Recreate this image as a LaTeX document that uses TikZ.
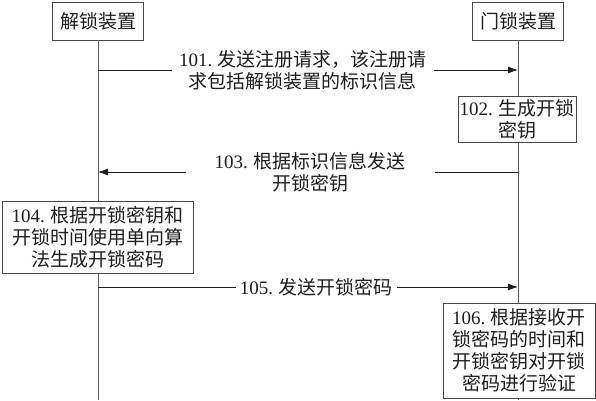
\documentclass[tikz,border=0pt]{standalone}
\usepackage{fontspec}
\setmainfont{Liberation Serif}
\newfontfamily\cjk{Noto Sans CJK SC}
\usetikzlibrary{arrows.meta}
\definecolor{linegray}{RGB}{90,90,90}
\definecolor{boxgray}{RGB}{70,70,70}
\definecolor{inkdark}{RGB}{30,30,30}

\begin{document}
\begin{tikzpicture}[x=1pt, y=-1pt, >={Latex[length=10pt,width=7pt]},
  every node/.style={font=\cjk\fontsize{19}{22}\selectfont, text=inkdark},
  device/.style={draw=boxgray, line width=0.9pt, fill=white, inner sep=1pt,
                 minimum width=91pt, minimum height=38pt},
  stepbox/.style={draw=boxgray, line width=0.9pt, fill=white, inner sep=1pt,
                  align=center},
  life/.style={linegray, line width=0.8pt},
  msg/.style={inkdark, line width=0.8pt},
  lbl/.style={fill=white, inner xsep=7pt, inner ysep=0pt, align=center}]
  \useasboundingbox (0,0) rectangle (596,400);

  % Devices
  \node[device] (dev) at (98,21) {解锁装置};
  \node[device] (lock) at (518,21) {门锁装置};

  % Lifelines
  \coordinate (devend) at (98,400);
  \coordinate (lockend) at (518,400);
  \draw[life] (dev.south) -- (devend);
  \draw[life] (lock.south) -- (lockend);

  % Steps
  \node[stepbox, minimum width=118pt, minimum height=46pt] (s102) at (517,119)
    {\textrm{102.} 生成开锁\\密钥};
  \node[stepbox, minimum width=191pt, minimum height=72pt] (s104) at (97.5,237)
    {\textrm{104.} 根据开锁密钥和\\开锁时间使用单向算\\法生成开锁密码};
  \node[stepbox, minimum width=152pt, minimum height=95pt] (s106) at (519,350.5)
    {\textrm{106.} 根据接收开\\锁密码的时间和\\开锁密钥对开锁\\密码进行验证};

  % Messages
  \coordinate (a101) at (98,70);
  \coordinate (b101) at (518,70);
  \draw[msg, ->] (a101) -- node[lbl, pos=0.488] (t101)
    {\textrm{101.} 发送注册请求，该注册请\\求包括解锁装置的标识信息} (b101);

  \coordinate (a103) at (518,172);
  \coordinate (b103) at (98,172);
  \draw[msg, ->] (a103) -- node[lbl, pos=0.495, minimum width=249pt] (t103)
    {\textrm{103.} 根据标识信息发送\\开锁密钥} (b103);

  \coordinate (a105) at (98,287);
  \coordinate (b105) at (518,287);
  \draw[msg, ->] (a105) -- node[lbl, inner xsep=4pt, pos=0.52] (t105)
    {\textrm{105.} 发送开锁密码} (b105);
\end{tikzpicture}
\end{document}
